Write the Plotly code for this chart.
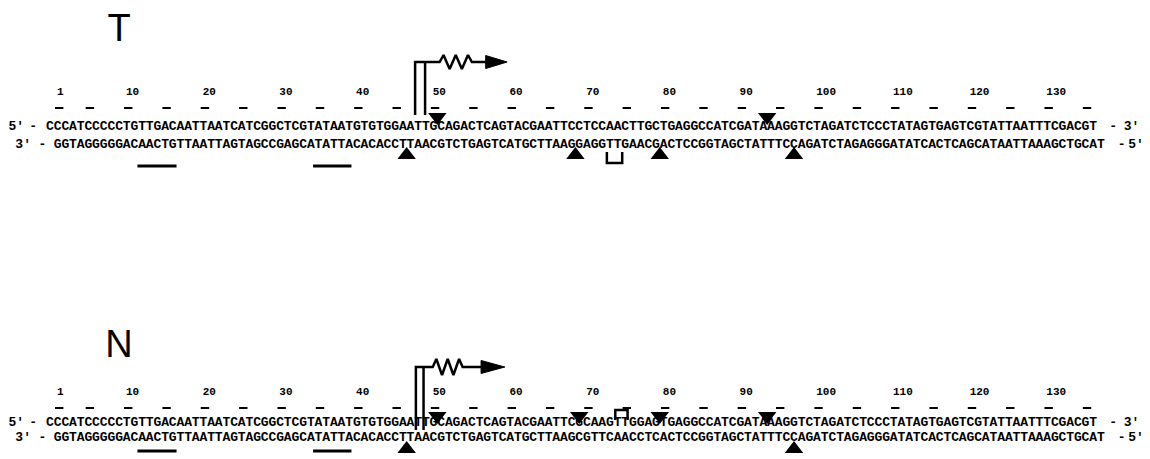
import plotly.graph_objects as go

# ---------------- data ----------------
tick_numbers = [1, 10, 20, 30, 40, 50, 60, 70, 80, 90, 100, 110, 120, 130]
dash_numbers = [1] + list(range(5, 140, 5))

T_top = "CCCATCCCCCTGTTGACAATTAATCATCGGCTCGTATAATGTGTGGAATTGCAGACTCAGTACGAATTCCTCCAACTTGCTGAGGCCATCGATAAAGGTCTAGATCTCCCTATAGTGAGTCGTATTAATTTCGACGT"
T_bottom = "GGTAGGGGGACAACTGTTAATTAGTAGCCGAGCATATTACACACCTTAACGTCTGAGTCATGCTTAAGGAGGTTGAACGACTCCGGTAGCTATTTCCAGATCTAGAGGGATATCACTCAGCATAATTAAAGCTGCAT"
N_top = "CCCATCCCCCTGTTGACAATTAATCATCGGCTCGTATAATGTGTGGAATTGCAGACTCAGTACGAATTCGCAAGTTGGAGTGAGGCCATCGATAAAGGTCTAGATCTCCCTATAGTGAGTCGTATTAATTTCGACGT"
N_bottom = "GGTAGGGGGACAACTGTTAATTAGTAGCCGAGCATATTACACACCTTAACGTCTGAGTCATGCTTAAGCGTTCAACCTCACTCCGGTAGCTATTTCCAGATCTAGAGGGATATCACTCAGCATAATTAAAGCTGCAT"
top_start = 1
bottom_start = 2

# marks (nucleotide positions)
T_top_triangles = [51.5, 94.5]
T_bottom_triangles = [47.5, 69.5, 80.5, 98.0]
T_bracket = [73.6, 75.6]
N_top_triangles = [51.5, 70.0, 80.5, 94.5]
N_bottom_triangles = [47.5, 98.0]
N_bracket = [74.7, 76.3]
underlines = [[12.4, 17.5], [35.3, 40.3]]
T_promoter_lines = [48.6, 49.9]
N_promoter_lines = [48.7, 49.7]

# ---------------- styling / layout ----------------
SEQ_FONT = dict(family="Liberation Mono", size=13, color="black", weight="bold")
NUM_FONT = dict(family="Liberation Mono", size=11, color="black", weight="bold")

panels = {
    "T": dict(top=T_top, bottom=T_bottom, ttri=T_top_triangles, btri=T_bottom_triangles,
              bracket=T_bracket, bracket_y=(152, 163), lines=T_promoter_lines,
              letter_y=31, arrow_y=62, line_bottom=115, label_y=92, dash_y=108,
              top_y=127, bot_y=145, ttri_y=117, btri_y=155, ul_y=166,
              zig=(51.8, 56.0), head=(57.8, 60.6), amp=7),
    "N": dict(top=N_top, bottom=N_bottom, ttri=N_top_triangles, btri=N_bottom_triangles,
              bracket=N_bracket, bracket_y=(420, 410), lines=N_promoter_lines,
              letter_y=347, arrow_y=367, line_bottom=430, label_y=392, dash_y=408,
              top_y=423, bot_y=438, ttri_y=416, btri_y=449, ul_y=451,
              zig=(50.9, 54.8), head=(57.2, 60.3), amp=8),
}

fig = go.Figure()


def text_trace(xs, ys, texts, font):
    fig.add_trace(go.Scatter(x=xs, y=ys, text=texts, mode="text", textfont=font,
                             textposition="middle center", hoverinfo="skip",
                             cliponaxis=False))


def line_trace(xs, ys, width=2.5, fill=None):
    fig.add_trace(go.Scatter(x=xs, y=ys, mode="lines", line=dict(color="black", width=width),
                             fill=fill, fillcolor="black", hoverinfo="skip"))


for name, p in panels.items():
    # panel letter
    text_trace([10.0], [p["letter_y"]], [name],
               dict(family="Liberation Sans", size=38, color="black"))
    # numbers
    text_trace([n + 0.9 + 0.43 * len(str(n)) for n in tick_numbers],
               [p["label_y"]] * len(tick_numbers), [str(n) for n in tick_numbers], NUM_FONT)
    # dashes
    fig.add_trace(go.Scatter(x=[n + 1.2 for n in dash_numbers], y=[p["dash_y"]] * len(dash_numbers),
                             mode="markers", hoverinfo="skip",
                             marker=dict(symbol="line-ew", size=6,
                                         line=dict(color="black", width=2))))
    # strands
    top, bot = p["top"], p["bottom"]
    text_trace([top_start + k for k in range(len(top))], [p["top_y"]] * len(top), list(top), SEQ_FONT)
    text_trace([bottom_start + k for k in range(len(bot))], [p["bot_y"]] * len(bot), list(bot), SEQ_FONT)
    # strand ends
    text_trace([-3.4, -1.2, 139.6, 142.0], [p["top_y"]] * 4, ["5'", "-", "-", "3'"], SEQ_FONT)
    text_trace([-2.5, 0.0, 140.7, 142.6], [p["bot_y"]] * 4, ["3'", "-", "-", "5'"], SEQ_FONT)
    # triangles
    fig.add_trace(go.Scatter(x=p["ttri"], y=[p["ttri_y"]] * len(p["ttri"]), mode="markers",
                             hoverinfo="skip",
                             marker=dict(symbol="triangle-down", size=16, color="black")))
    fig.add_trace(go.Scatter(x=p["btri"], y=[p["btri_y"]] * len(p["btri"]), mode="markers",
                             hoverinfo="skip",
                             marker=dict(symbol="triangle-up", size=16, color="black")))
    # bracket
    b0, b1 = p["bracket"]
    y0, y1 = p["bracket_y"]
    line_trace([b0, b0, b1, b1], [y0, y1, y1, y0])
    # underlines (-35 / -10 boxes)
    for u0, u1 in underlines:
        line_trace([u0, u1], [p["ul_y"], p["ul_y"]], width=3)
    # promoter / transcription start arrow
    l0, l1 = p["lines"]
    ay = p["arrow_y"]
    line_trace([l1, l1], [p["line_bottom"], ay])
    z0, z1 = p["zig"]
    a = p["amp"]
    fr = [0, 0.12, 0.31, 0.5, 0.69, 0.88, 1.0]
    dy = [0, -a, a, -a, a, -a, 0]
    xs = [l0, l0] + [z0 + f * (z1 - z0) for f in fr] + [p["head"][0]]
    ys = [p["line_bottom"], ay] + [ay + d for d in dy] + [ay]
    line_trace(xs, ys)
    h0, h1 = p["head"]
    line_trace([h0, h1, h0, h0], [ay - 6.5, ay, ay + 6.5, ay - 6.5], width=1, fill="toself")

# the page body has an 8 px margin: the figure is drawn 8 px in from the
# top-left corner, so it is made 8 px smaller and its ranges start 8 px in.
fig.update_layout(
    width=1142, height=451,
    margin=dict(l=0, r=0, t=0, b=0),
    paper_bgcolor="white", plot_bgcolor="white",
    showlegend=False,
    xaxis=dict(range=[-4.476, 144.41], visible=False, fixedrange=True),
    yaxis=dict(range=[459, 8], visible=False, fixedrange=True),
)

fig.write_html("out.html")
